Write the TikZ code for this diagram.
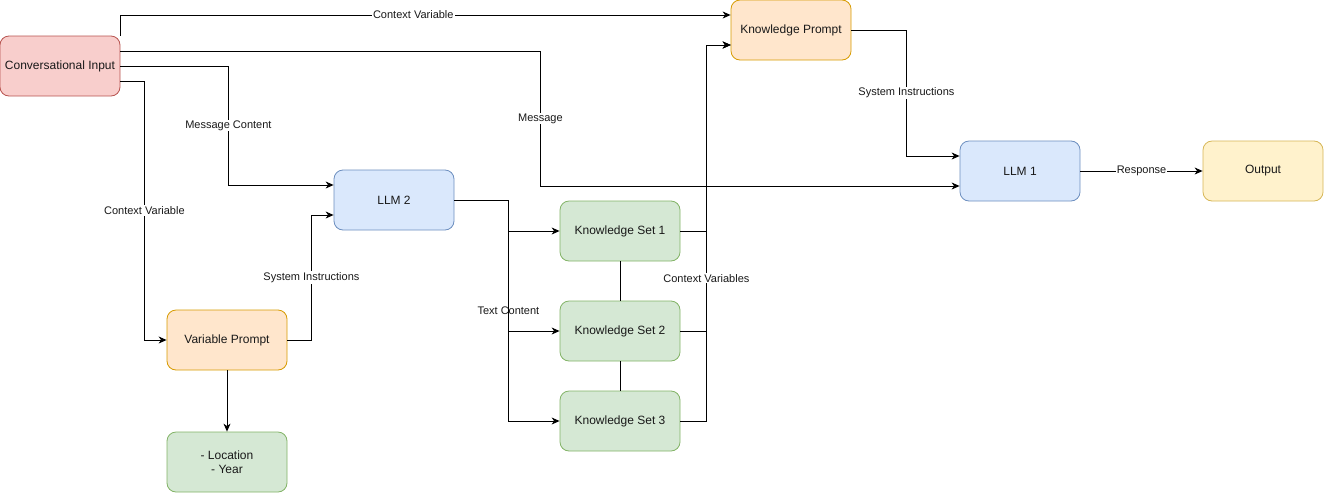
\documentclass[tikz,border=0pt]{standalone}
\usepackage{fontspec}
\setmainfont{Liberation Sans}
\usetikzlibrary{arrows.meta}
\definecolor{redfill}{HTML}{F8CECC}\definecolor{redline}{HTML}{B85450}
\definecolor{orangefill}{HTML}{FFE6CC}\definecolor{orangeline}{HTML}{D79B00}
\definecolor{bluefill}{HTML}{DAE8FC}\definecolor{blueline}{HTML}{6C8EBF}
\definecolor{greenfill}{HTML}{D5E8D4}\definecolor{greenline}{HTML}{82B366}
\definecolor{yellowfill}{HTML}{FFF2CC}\definecolor{yellowline}{HTML}{D6B656}
\begin{document}
\begin{tikzpicture}[x=1pt,y=-1pt,
  box/.style={draw, rounded corners=9pt, minimum width=120pt, minimum height=60pt,
    line width=0.8pt, inner sep=0pt, align=center, text=black!90,
    font=\fontsize{12}{14}\selectfont},
  redbox/.style={box, fill=redfill, draw=redline},
  orangebox/.style={box, fill=orangefill, draw=orangeline},
  bluebox/.style={box, fill=bluefill, draw=blueline},
  greenbox/.style={box, fill=greenfill, draw=greenline},
  yellowbox/.style={box, fill=yellowfill, draw=yellowline},
  arr/.style={line width=0.9pt, -{Stealth[length=8pt,width=7pt,inset=2.5pt]}},
  lbl/.style={fill=white, inner sep=1pt, text=black!90, font=\fontsize{11}{13}\selectfont}]
\useasboundingbox (0,0) rectangle (1324,493);
% boxes
\node[redbox] (ci) at (60,66) {Conversational Input};
\node[orangebox] (kp) at (791,30) {Knowledge Prompt};
\node[bluebox] (llm2) at (394,200) {LLM 2};
\node[bluebox] (llm1) at (1020,171) {LLM 1};
\node[yellowbox] (out) at (1263,171) {Output};
\node[greenbox] (ks1) at (620,231) {Knowledge Set 1};
\node[greenbox] (ks2) at (620,331) {Knowledge Set 2};
\node[greenbox] (ks3) at (620,421) {Knowledge Set 3};
\node[orangebox] (vp) at (227,340) {Variable Prompt};
\node[greenbox] (loc) at (227,462) {- Location\\- Year};
% from the conversational input
\draw[arr] (ci.north east) |- ([yshift=15pt]kp.west) node[lbl, pos=0.74] {Context Variable};
\draw[arr] ([yshift=15pt]ci.east) -- ++(420,0) |- ([yshift=-15pt]llm1.west) node[lbl, pos=0.25] {Message};
\draw[arr] (ci.east) -- ++(108,0) |- ([yshift=15pt]llm2.west) node[lbl, pos=0.25] {Message Content};
\draw[arr] ([yshift=-15pt]ci.east) -- ++(24,0) |- (vp.west) node[lbl, pos=0.25] {Context Variable};
% variable prompt
\draw[arr] (vp.east) -- ++(24,0) |- ([yshift=-15pt]llm2.west) node[lbl, pos=0.25] {System Instructions};
\draw[arr] (vp) -- (loc);
% text content to the knowledge sets
\draw[arr] (llm2.east) -- ++(54,0) coordinate (tc) |- (ks3.west) node[lbl, pos=0.25] {Text Content};
\draw[arr] (tc) |- (ks1.west);
\draw[arr] (tc) |- (ks2.west);
\draw[line width=0.9pt] (ks1) -- (ks2);
\draw[line width=0.9pt] (ks2) -- (ks3);
% context variables
\draw[arr] (ks1.east) -- ++(26,0) |- ([yshift=-15pt]kp.west);
\draw[arr] (ks2.east) -- ++(26,0) |- ([yshift=-15pt]kp.west);
\draw[arr] (ks3.east) -- ++(26,0) |- ([yshift=-15pt]kp.west) node[lbl, pos=0.19] {Context Variables};
% knowledge prompt and output
\draw[arr] (kp.east) -- ++(55,0) |- ([yshift=15pt]llm1.west) node[lbl, pos=0.25] {System Instructions};
\draw[arr] (llm1) -- (out) node[lbl, midway] {Response};
\end{tikzpicture}
\end{document}
